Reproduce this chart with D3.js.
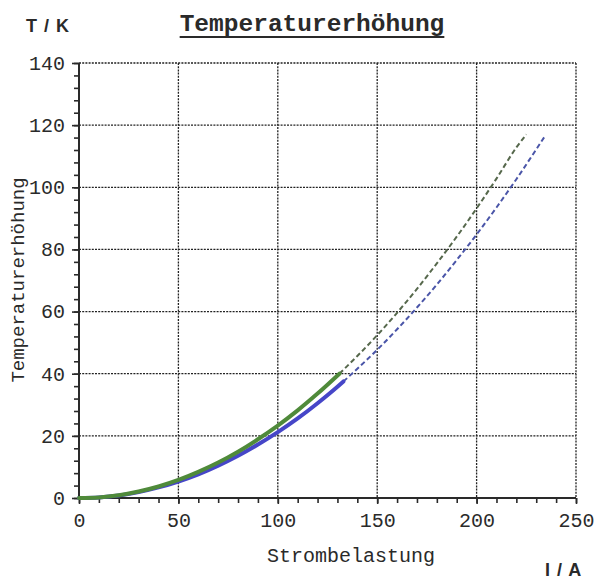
<!DOCTYPE html>
<html>
<head>
<meta charset="utf-8">
<script src="https://cdn.jsdelivr.net/npm/d3@7"></script>
<style>
  html, body { margin: 0; padding: 0; background: #fff; }
  svg { display: block; }
</style>
</head>
<body>
<svg id="chart" width="597" height="579"></svg>
<script>
// Strombelastung I (A) und Temperaturerhöhung T (K)
const greenSolidI = [0, 10, 20, 30, 40, 50, 60, 70, 80, 90, 100, 110, 120, 131];
const greenSolidT = [0, 0.2, 0.9, 2.1, 3.7, 5.8, 8.4, 11.4, 14.9, 18.9, 23.3, 28.2, 33.6, 40.0];
const greenDashI  = [131, 140, 150, 160, 170, 180, 190, 200, 210, 220, 225];
const greenDashT  = [40.0, 45.7, 52.4, 59.6, 67.3, 75.5, 84.1, 93.2, 102.8, 112.8, 117.0];

const blueSolidI = [0, 10, 20, 30, 40, 50, 60, 70, 80, 90, 100, 110, 120, 130, 133];
const blueSolidT = [0, 0.2, 0.8, 1.9, 3.4, 5.3, 7.6, 10.4, 13.6, 17.2, 21.2, 25.6, 30.5, 35.8, 37.5];
const blueDashI  = [133, 140, 150, 160, 170, 180, 190, 200, 210, 220, 230, 234];
const blueDashT  = [37.5, 41.6, 47.7, 54.3, 61.3, 68.7, 76.6, 84.8, 93.5, 102.6, 112.2, 116.1];

const xMajorTicks = [0, 50, 100, 150, 200, 250];
const yMajorTicks = [0, 20, 40, 60, 80, 100, 120, 140];
const xMinorTicks = d3.range(0, 251, 10);
const yMinorTicks = d3.range(0, 141, 4);

const title = "Temperaturerhöhung";
const yTitle = "Temperaturerhöhung";
const xTitle = "Strombelastung";
const yUnit = "T / K";
const xUnit = "I / A";

const svg = d3.select("#chart");
const plotLeft = 79, plotRight = 576, plotTop = 63, plotBottom = 498;

const x = d3.scaleLinear().domain([0, 250]).range([plotLeft, plotRight]);
const y = d3.scaleLinear().domain([0, 140]).range([plotBottom, plotTop]);

const monoFont = "'Liberation Mono', 'Courier New', monospace";
const ink = "#2a2a2a";

// dotted grid
const grid = svg.append("g").attr("stroke", "#222").attr("stroke-width", 1.3)
  .attr("stroke-dasharray", "2,1.2");
grid.selectAll("line.v").data(xMajorTicks.filter(d => d > 0)).join("line")
  .attr("class", "v")
  .attr("x1", d => x(d)).attr("x2", d => x(d))
  .attr("y1", plotTop).attr("y2", plotBottom);
grid.selectAll("line.h").data(yMajorTicks.filter(d => d > 0)).join("line")
  .attr("class", "h")
  .attr("x1", plotLeft).attr("x2", plotRight)
  .attr("y1", d => y(d)).attr("y2", d => y(d));

// axes
const xMinorAxis = d3.axisBottom(x).tickValues(xMinorTicks).tickSize(5).tickFormat("");
const xMajorAxis = d3.axisBottom(x).tickValues(xMajorTicks).tickSize(6).tickPadding(9);
const yMinorAxis = d3.axisLeft(y).tickValues(yMinorTicks).tickSize(5).tickFormat("");
const yMajorAxis = d3.axisLeft(y).tickValues(yMajorTicks).tickSize(7).tickPadding(7);

function styleAxis(g) {
  g.select(".domain").remove();
  g.selectAll(".tick line").attr("stroke", ink).attr("stroke-width", 1.6);
  g.selectAll(".tick text").attr("fill", ink).attr("font-family", monoFont).attr("font-size", 20);
}

svg.append("g").attr("transform", `translate(0,${plotBottom})`).call(xMinorAxis).call(styleAxis);
svg.append("g").attr("transform", `translate(0,${plotBottom})`).call(xMajorAxis).call(styleAxis);
svg.append("g").attr("transform", `translate(${plotLeft},0)`).call(yMinorAxis).call(styleAxis);
svg.append("g").attr("transform", `translate(${plotLeft},0)`).call(yMajorAxis).call(styleAxis);

// solid axis lines
svg.append("line").attr("x1", plotLeft).attr("x2", plotRight).attr("y1", plotBottom).attr("y2", plotBottom)
  .attr("stroke", ink).attr("stroke-width", 2);
svg.append("line").attr("x1", plotLeft).attr("x2", plotLeft).attr("y1", plotTop).attr("y2", plotBottom)
  .attr("stroke", ink).attr("stroke-width", 2);

// curves
const line = d3.line().x(d => x(d[0])).y(d => y(d[1])).curve(d3.curveMonotoneX);
const zip = (a, b) => a.map((v, i) => [v, b[i]]);

svg.append("path").datum(zip(greenDashI, greenDashT)).attr("d", line)
  .attr("fill", "none").attr("stroke", "#56684c").attr("stroke-width", 2)
  .attr("stroke-dasharray", "5,3");
svg.append("path").datum(zip(blueDashI, blueDashT)).attr("d", line)
  .attr("fill", "none").attr("stroke", "#4a55a8").attr("stroke-width", 2)
  .attr("stroke-dasharray", "5,3");
svg.append("path").datum(zip(blueSolidI, blueSolidT)).attr("d", line)
  .attr("fill", "none").attr("stroke", "#4646c8").attr("stroke-width", 4)
  .attr("stroke-linecap", "round");
svg.append("path").datum(zip(greenSolidI, greenSolidT)).attr("d", line)
  .attr("fill", "none").attr("stroke", "#4f8a3a").attr("stroke-width", 4)
  .attr("stroke-linecap", "round");

// titles
const t = svg.append("text").attr("x", 312).attr("y", 31).attr("text-anchor", "middle")
  .attr("font-family", monoFont).attr("font-weight", "bold").attr("font-size", 24.5)
  .attr("fill", ink).text(title);
const tb = t.node().getBBox();
svg.append("line").attr("x1", tb.x).attr("x2", tb.x + tb.width)
  .attr("y1", 37).attr("y2", 37).attr("stroke", ink).attr("stroke-width", 2);

svg.append("text").attr("transform", "translate(24,280) rotate(-90)").attr("text-anchor", "middle")
  .attr("font-family", monoFont).attr("font-size", 19).attr("fill", ink).text(yTitle);

svg.append("text").attr("x", 351).attr("y", 562).attr("text-anchor", "middle")
  .attr("font-family", monoFont).attr("font-size", 20).attr("fill", ink).text(xTitle);

svg.append("text").attr("x", 26).attr("y", 32)
  .attr("font-family", "'Liberation Sans', Arial, sans-serif").attr("font-weight", "bold")
  .attr("font-size", 18).attr("fill", ink).attr("letter-spacing", 1).text(yUnit);
svg.append("text").attr("x", 545).attr("y", 576)
  .attr("font-family", "'Liberation Sans', Arial, sans-serif").attr("font-weight", "bold")
  .attr("font-size", 18).attr("fill", ink).attr("letter-spacing", 1).text(xUnit);
</script>
</body>
</html>
